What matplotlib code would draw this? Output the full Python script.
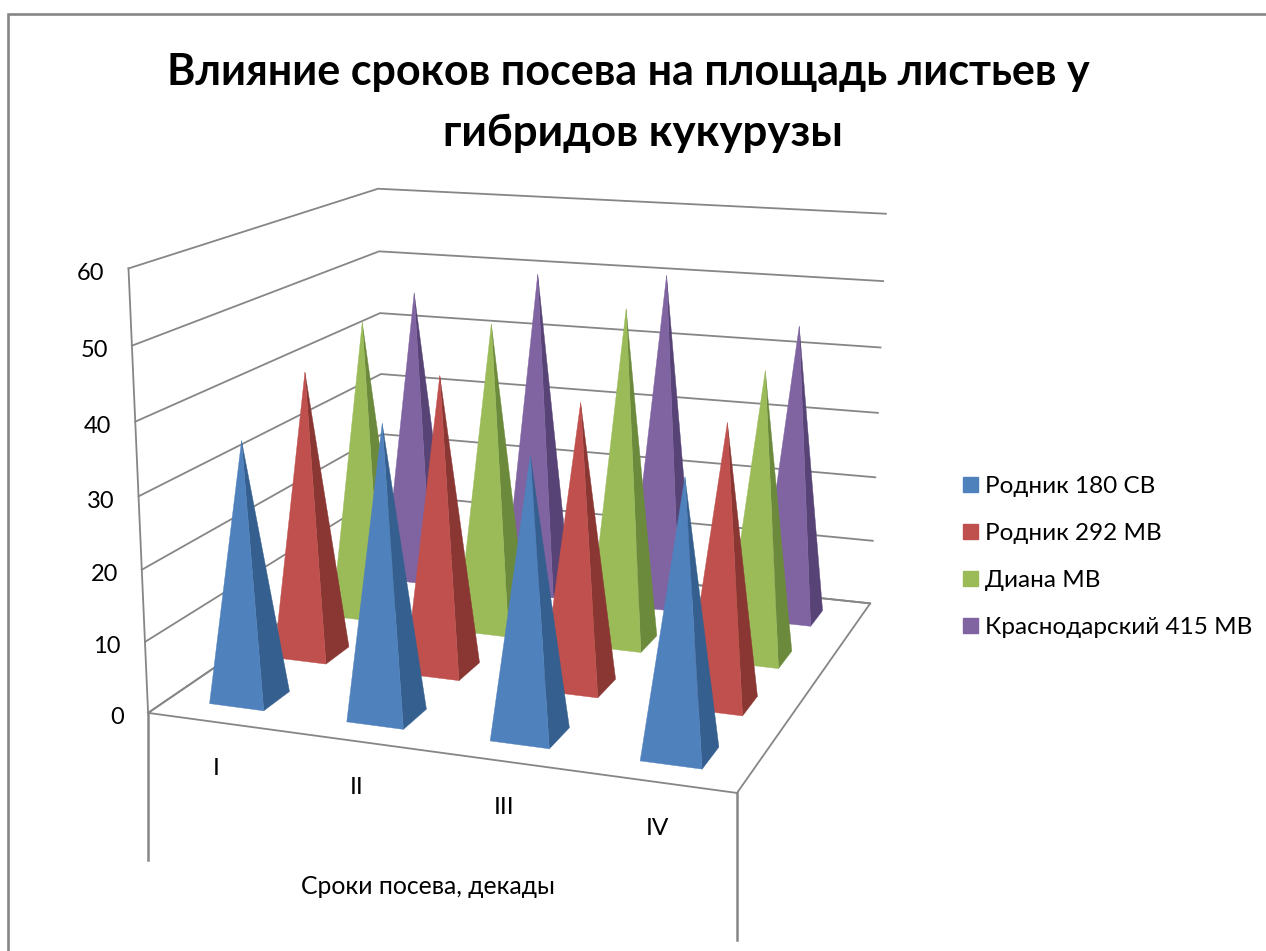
import numpy as np
import matplotlib
matplotlib.use("Agg")
import matplotlib.pyplot as plt
from matplotlib.patches import Polygon, Patch

plt.rcParams['font.family'] = ['Lato', 'Open Sans', 'DejaVu Sans']

W, H = 1266, 951

title_lines = ["Влияние сроков посева на площадь листьев у", "гибридов кукурузы"]
x_title = "Сроки посева, декады"
categories = ["I", "II", "III", "IV"]
series_names = ["Родник 180 СВ", "Родник 292 МВ", "Диана МВ", "Краснодарский 415 МВ"]
rodnik_180 = [36, 40, 37.5, 36.5]
rodnik_292 = [41.2, 42.2, 40, 38.9]
diana = [44.6, 45.7, 49.2, 41.8]
krasnodar = [45.6, 49.7, 50.7, 44.4]
y_ticks = [0, 10, 20, 30, 40, 50, 60]

front_colors = ["#4F81BD", "#C0504D", "#9BBB59", "#8064A2"]
side_colors = ["#355F8F", "#8A3633", "#6C8A3C", "#574375"]
grid_color = "#868686"

y_max = 60
half = 0.05

# camera fitted from the box corners: (cat, depth, value) -> picture pixels
box_3d = [(0, 0, 0), (1, 0, 0), (1, 1, 0), (0, 1, 0), (0, 0, 1), (0, 1, 1), (1, 1, 1),
          (0, 0, 5/6), (0, 1, 5/6), (1, 1, 5/6), (1, 1, 1/6)]
box_px = [(148, 713), (737, 793), (870, 603), (384, 552), (128.5, 269), (378, 189), (886, 213),
          (132, 345), (379, 251), (883, 282), (873, 541)]


def fit_camera(pts3, pts2):
    rows, rhs = [], []
    for (x, y, z), (u, v) in zip(pts3, pts2):
        rows.append([x, y, z, 1, 0, 0, 0, 0, -u*x, -u*y, -u*z])
        rows.append([0, 0, 0, 0, x, y, z, 1, -v*x, -v*y, -v*z])
        rhs += [u, v]
    p = np.linalg.lstsq(np.array(rows, float), np.array(rhs, float), rcond=None)[0]
    return np.append(p, 1).reshape(3, 4)


cam = fit_camera(box_3d, box_px)


def proj(x, y, val):
    q = cam @ np.array([x, y, val / y_max, 1.0])
    return q[0] / q[2], q[1] / q[2]


fig = plt.figure(figsize=(W / 100, H / 100), dpi=100)
ax = fig.add_axes([0, 0, 1, 1])
ax.set_xlim(0, W)
ax.set_ylim(H, 0)
ax.axis("off")

# chart frame
ax.plot([8, 8, W], [H, 14, 14], color=grid_color, lw=1.9, solid_joinstyle="miter")

# walls and floor
for t in y_ticks:
    pts = [proj(0, 0, t), proj(0, 1, t), proj(1, 1, t)]
    ax.plot(*zip(*pts), color=grid_color, lw=1.3, zorder=1)
    lx, ly = proj(0, 0, t)
    ax.text(lx - 24, ly + 5, str(t), ha="right", va="center", fontsize=17, color="black")
floor = [proj(0, 0, 0), proj(1, 0, 0), proj(1, 1, 0), proj(0, 1, 0)]
ax.plot(*zip(*(floor + floor[:1])), color=grid_color, lw=1.3, zorder=1)
ax.plot(*zip(proj(0, 0, 0), proj(0, 0, y_max)), color=grid_color, lw=1.3, zorder=1)
ax.plot([148, 148], [713, 860], color=grid_color, lw=1.8, zorder=1)
ax.plot([737, 737], [793, 940], color=grid_color, lw=1.8, zorder=1)

# pyramids, back row first
all_values = [rodnik_180, rodnik_292, diana, krasnodar]
for s in range(3, -1, -1):
    cy = (s + 0.5) / 4
    for c, v in enumerate(all_values[s]):
        cx = (c + 0.5) / 4
        top = proj(cx, cy, v)
        fl = proj(cx - half, cy - half, 0)
        fr = proj(cx + half, cy - half, 0)
        br = proj(cx + half, cy + half, 0)
        ax.add_patch(Polygon([fr, br, top], closed=True, fc=side_colors[s], ec=side_colors[s],
                             lw=0.3, zorder=3))
        ax.add_patch(Polygon([fl, fr, top], closed=True, fc=front_colors[s], ec=front_colors[s],
                             lw=0.3, zorder=3))

# category labels
for c, name in enumerate(categories):
    lx, ly = proj((c + 0.5) / 4, 0, 0)
    ax.text(lx + 0.5, ly + 46, name, ha="center", va="center", fontsize=17.6, color="black")

ax.text(428, 887, x_title, ha="center", va="center", fontsize=17.8, color="black")
ax.text(628, 85, title_lines[0], ha="center", va="baseline", fontsize=31, fontweight="bold",
        color="black")
ax.text(642.5, 146, title_lines[1], ha="center", va="baseline", fontsize=31.6, fontweight="bold",
        color="black")

handles = [Patch(fc=col, ec=col) for col in front_colors]
ax.legend(handles, series_names, loc="upper left", bbox_to_anchor=(963 / W, 1 - 476 / H),
          frameon=False, fontsize=17.5, handlelength=0.62, handleheight=0.62,
          handletextpad=0.3, labelspacing=1.07, borderpad=0, borderaxespad=0)

fig.savefig("out.png", dpi=100, facecolor="white")
